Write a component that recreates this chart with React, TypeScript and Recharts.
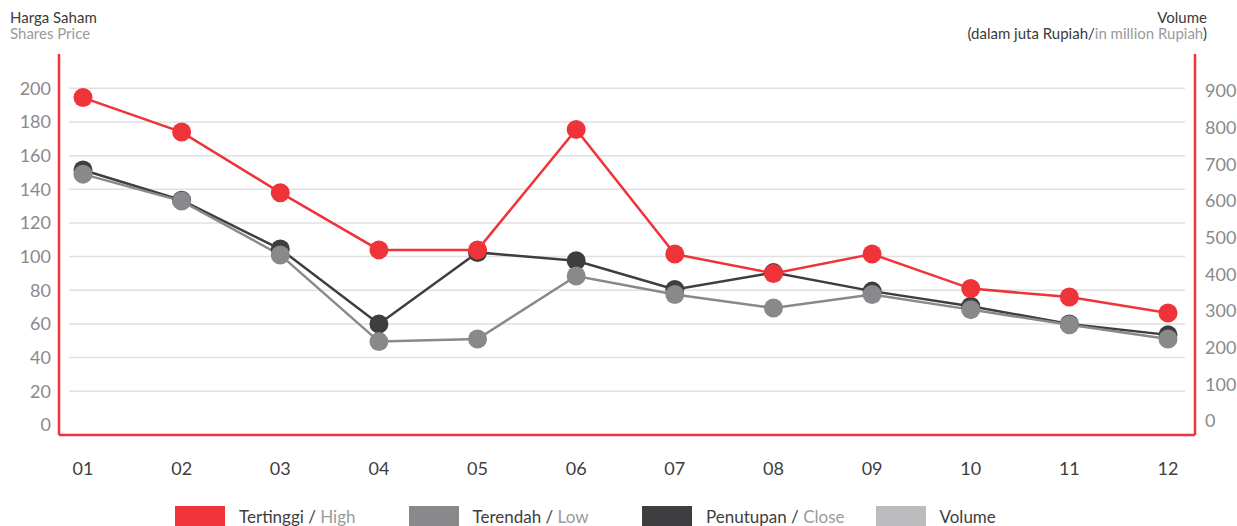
import { CartesianGrid, Line, LineChart, XAxis, YAxis } from 'recharts';

const months = ['01', '02', '03', '04', '05', '06', '07', '08', '09', '10', '11', '12'];
const high = [194.5, 174, 138, 104, 104, 175.5, 101.5, 90, 101.5, 81, 76, 66.5];
const low = [149, 133, 101, 49.5, 51, 88.5, 77.5, 69.5, 77.5, 68.5, 59.5, 51];
const close = [151.5, 133.5, 104.5, 60, 102.5, 97.5, 80.5, 90.5, 79.5, 70.5, 60, 53.5];
// volume bars are not drawn in the source picture
const volume: (number | null)[] = months.map(() => null);

const priceTicks = [0, 20, 40, 60, 80, 100, 120, 140, 160, 180, 200];
const volumeTicks = [0, 100, 200, 300, 400, 500, 600, 700, 800, 900];

const RED = '#ef3439';
const GREY = '#89898c';
const DARK = '#3e3e40';
const LIGHT = '#bcbcbf';

const legendItems = [
  { main: 'Tertinggi / ', sub: 'High', color: RED },
  { main: 'Terendah / ', sub: 'Low', color: GREY },
  { main: 'Penutupan / ', sub: 'Close', color: DARK },
  { main: 'Volume', sub: '', color: LIGHT },
];

const data = months.map((m, i) => ({
  month: m,
  high: high[i],
  low: low[i],
  close: close[i],
  volume: volume[i],
}));

const FONT = 'Lato, "Noto Sans", sans-serif';

// grid lines are inset from the red frame and skip the zero line and the top edge
const gridLine = (props: any) => {
  if (props.y1 > 415 || props.y1 < 60) return <g key={props.key} />;
  return (
    <line
      key={props.key}
      x1={props.x1 + 10}
      x2={props.x2 - 10}
      y1={props.y1}
      y2={props.y2}
      stroke="#e1e1e1"
      strokeWidth={1.5}
    />
  );
};

export default function App() {
  return (
    <div
      style={{
        position: 'absolute',
        left: 0,
        top: 0,
        width: 1237,
        height: 526,
        overflow: 'hidden',
        background: '#fff',
        fontFamily: FONT,
      }}
    >
      <div style={{ position: 'absolute', left: 10, top: 9, fontSize: 15, lineHeight: '16px' }}>
        <div style={{ color: '#3a3a3a' }}>Harga Saham</div>
        <div style={{ color: '#9a9a9a' }}>Shares Price</div>
      </div>
      <div
        style={{
          position: 'absolute',
          right: 30,
          top: 9,
          fontSize: 15,
          lineHeight: '16px',
          textAlign: 'right',
          color: '#3a3a3a',
        }}
      >
        <div>Volume</div>
        <div>
          (dalam juta Rupiah/<span style={{ color: '#9a9a9a' }}>in million Rupiah</span>)
        </div>
      </div>

      <LineChart
        width={1237}
        height={526}
        data={data}
        margin={{ top: 54, right: 0, bottom: 51, left: 0 }}
      >
        <CartesianGrid vertical={false} horizontal={gridLine} yAxisId="price" />
        <XAxis
          dataKey="month"
          padding={{ left: 24, right: 27 }}
          height={40}
          axisLine={{ stroke: RED, strokeWidth: 2.5 }}
          tickLine={false}
          tickSize={0}
          tickMargin={27}
          tick={{ fill: '#3e3e3e', fontSize: 18, fontFamily: FONT }}
        />
        <YAxis
          yAxisId="price"
          width={59}
          domain={[-6, 220.4]}
          ticks={priceTicks}
          allowDataOverflow
          axisLine={{ stroke: RED, strokeWidth: 2.5 }}
          tickLine={false}
          tickSize={0}
          tickMargin={8}
          tick={{ fill: '#8a8a8a', fontSize: 18, fontFamily: FONT }}
        />
        <YAxis
          yAxisId="volume"
          orientation="right"
          width={42}
          domain={[-38, 1001]}
          ticks={volumeTicks}
          allowDataOverflow
          axisLine={{ stroke: RED, strokeWidth: 2.5 }}
          tickLine={false}
          tickSize={0}
          tickMargin={10}
          tick={{ fill: '#8a8a8a', fontSize: 18, fontFamily: FONT, textAnchor: 'start' }}
        />
        <Line
          yAxisId="volume"
          dataKey="volume"
          stroke={LIGHT}
          dot={false}
          isAnimationActive={false}
        />
        <Line
          yAxisId="price"
          dataKey="close"
          stroke={DARK}
          strokeWidth={2.5}
          dot={{ r: 9.5, fill: DARK, stroke: 'none' }}
          activeDot={false}
          isAnimationActive={false}
        />
        <Line
          yAxisId="price"
          dataKey="low"
          stroke={GREY}
          strokeWidth={2.5}
          dot={{ r: 9.5, fill: GREY, stroke: 'none' }}
          activeDot={false}
          isAnimationActive={false}
        />
        <Line
          yAxisId="price"
          dataKey="high"
          stroke={RED}
          strokeWidth={2.5}
          dot={{ r: 9.5, fill: RED, stroke: 'none' }}
          activeDot={false}
          isAnimationActive={false}
        />
      </LineChart>

      <div style={{ position: 'absolute', left: 175, top: 506, display: 'flex' }}>
        {legendItems.map((item) => (
          <div key={item.main} style={{ width: 233.5, display: 'flex', alignItems: 'flex-start' }}>
            <div style={{ width: 50, height: 22, background: item.color }} />
            <div style={{ marginLeft: 14, fontSize: 17, lineHeight: '22px', color: '#3e3e3e' }}>
              {item.main}
              <span style={{ color: '#9a9a9a' }}>{item.sub}</span>
            </div>
          </div>
        ))}
      </div>
    </div>
  );
}
